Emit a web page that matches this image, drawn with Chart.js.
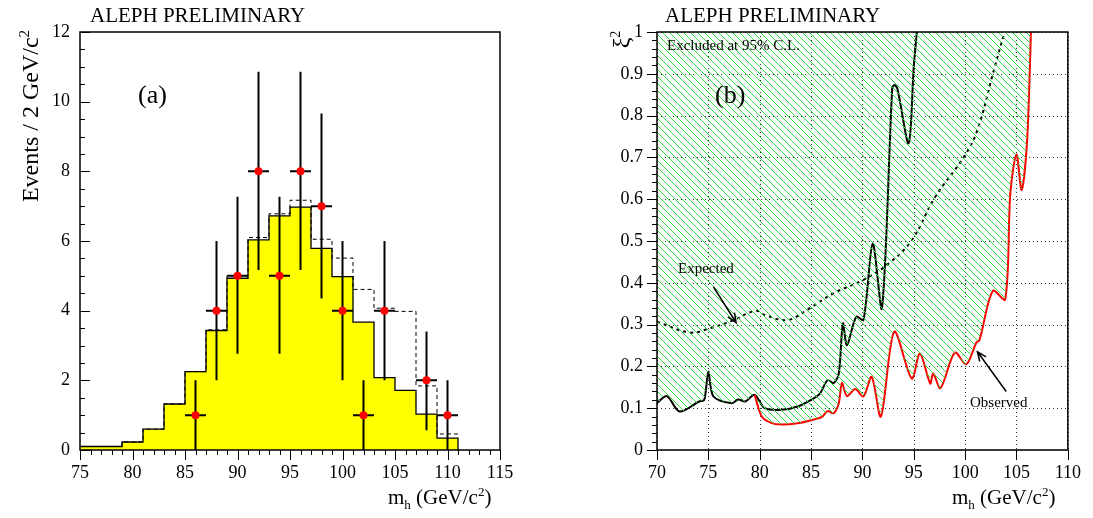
<!DOCTYPE html>
<html>
<head>
<meta charset="utf-8">
<script src="https://cdn.jsdelivr.net/npm/chart.js@4"></script>
<style>
  body { margin: 0; background: #fff; font-family: "Liberation Serif", serif; }
  #wrap { position: relative; width: 1093px; height: 518px; }
  canvas { position: absolute; top: 0; }
  .txt { position: absolute; font-family: "Liberation Serif", serif; color: #000; white-space: nowrap; }
</style>
</head>
<body>
<div id="wrap">
  <canvas id="histChart" style="left:0" width="540" height="518"></canvas>
  <canvas id="limitChart" style="left:560px" width="533" height="518"></canvas>
  <div class="txt" style="left:90px;top:3px;font-size:21px">ALEPH PRELIMINARY</div>
  <div class="txt" style="left:665px;top:3px;font-size:21px">ALEPH PRELIMINARY</div>
  <div class="txt" style="left:138px;top:80px;font-size:26px">(a)</div>
  <div class="txt" style="left:715px;top:80px;font-size:26px">(b)</div>
  <div class="txt" style="left:667px;top:37px;font-size:15px">Excluded at 95% C.L.</div>
  <div class="txt" style="left:678px;top:260px;font-size:15px">Expected</div>
  <div class="txt" style="left:970px;top:394px;font-size:15px">Observed</div>
  <div class="txt" style="left:-80px;top:102px;font-size:24px;transform:rotate(-90deg);transform-origin:center;width:220px;text-align:center">Events / 2 GeV/c<sup style="font-size:15px">2</sup></div>
  <div class="txt" style="left:613px;top:26px;font-size:24px;transform:rotate(-90deg)">ξ<sup style="font-size:14px">2</sup></div>
  <div class="txt" style="left:388px;top:484px;font-size:21px">m<sub style="font-size:13px">h</sub> (GeV/c<sup style="font-size:13px">2</sup>)</div>
  <div class="txt" style="left:952px;top:484px;font-size:21px">m<sub style="font-size:13px">h</sub> (GeV/c<sup style="font-size:13px">2</sup>)</div>
</div>
<script>
// ---- panel (a) data ----
const binEdges = [75, 79, 81, 83, 85, 87, 89, 91, 93, 95, 97, 99, 101, 103, 105, 107, 109, 111];
const bkgCounts = [0.1, 0.23, 0.6, 1.32, 2.25, 3.43, 4.93, 6.03, 6.72, 6.97, 5.79, 4.98, 3.67, 2.08, 1.71, 1.03, 0.34];
const sigBkgCounts = [0.1, 0.23, 0.6, 1.32, 2.25, 3.45, 5.0, 6.1, 6.78, 7.17, 6.05, 5.51, 4.61, 4.07, 3.98, 1.84, 0.46];
const dataMass = [86, 88, 90, 92, 94, 96, 98, 100, 102, 104, 108, 110];
const dataCounts = [1, 4, 5, 8, 5, 8, 7, 4, 1, 4, 2, 1];
const dataErrLow = [1, 2, 2.24, 2.83, 2.24, 2.83, 2.65, 2, 1, 2, 1.43, 1];
const dataErrHigh = [1, 2, 2.27, 2.86, 2.27, 2.86, 2.66, 2, 1, 2, 1.4, 1];

// ---- panel (b) data ----
const blackX = [70, 70.96, 72.2, 74.1, 74.6, 75, 75.5, 77.3, 77.9, 78.6, 79.5, 80.5, 82.1, 83.7, 85.3, 85.9, 86.6, 87.2, 87.7, 88.1, 88.5, 89.4, 90.1, 91.0, 91.9, 92.9, 93.1, 93.4, 94.5, 95.0, 95.3];
const blackY = [0.112, 0.129, 0.092, 0.116, 0.12, 0.187, 0.128, 0.112, 0.121, 0.116, 0.132, 0.1, 0.096, 0.104, 0.124, 0.136, 0.167, 0.16, 0.183, 0.303, 0.251, 0.319, 0.311, 0.494, 0.339, 0.865, 0.873, 0.865, 0.734, 0.917, 1.0];
const redX = [79.5, 80.2, 81.1, 82.1, 83.7, 85.3, 86.1, 86.6, 87.2, 87.7, 88.0, 88.5, 89.3, 90.1, 90.9, 91.8, 93.1, 94.8, 95.6, 96.6, 96.9, 97.6, 99.0, 100.1, 101.1, 101.4, 102.7, 103.9, 104.4, 105.0, 105.5, 106.0, 106.3, 106.4];
const redY = [0.132, 0.08, 0.065, 0.061, 0.064, 0.073, 0.08, 0.093, 0.088, 0.112, 0.16, 0.129, 0.146, 0.128, 0.175, 0.08, 0.283, 0.171, 0.231, 0.159, 0.183, 0.148, 0.233, 0.205, 0.257, 0.263, 0.381, 0.36, 0.614, 0.707, 0.622, 0.726, 0.909, 1.0];
const expX = [70, 73.2, 75.1, 77.3, 79.6, 80.5, 82.7, 84.6, 87.2, 90.1, 92.6, 94.8, 97.1, 99.9, 101.2, 102.8, 103.8];
const expY = [0.307, 0.281, 0.291, 0.309, 0.333, 0.323, 0.311, 0.335, 0.375, 0.407, 0.447, 0.502, 0.606, 0.702, 0.766, 0.909, 0.997];

const serif = { family: 'Liberation Serif', size: 18 };
Chart.defaults.color = '#000';

// histogram outline: each bin gives a flat segment from its low to its high edge
function stepPoints(edges, vals) {
  const pts = [];
  vals.forEach((v, i) => { pts.push({ x: edges[i], y: v }); pts.push({ x: edges[i + 1], y: v }); });
  return pts;
}
function xy(xs, ys) { return xs.map((x, i) => ({ x: x, y: ys[i] })); }

// tick marks, frame and optional dotted grid drawn from the scales
function axisDecor(opts) {
  return {
    id: 'axisDecor',
    beforeDatasetsDraw(chart) {
      if (!opts.grid) return;
      const c = chart.ctx, a = chart.chartArea, xs = chart.scales.x, ys = chart.scales.y;
      c.save();
      c.strokeStyle = '#333';
      c.lineWidth = 1;
      c.setLineDash([1, 3]);
      c.beginPath();
      xs.ticks.forEach(t => { const px = Math.round(xs.getPixelForValue(t.value)) + 0.5; c.moveTo(px, a.top); c.lineTo(px, a.bottom); });
      ys.ticks.forEach(t => { const py = Math.round(ys.getPixelForValue(t.value)) + 0.5; c.moveTo(a.left, py); c.lineTo(a.right, py); });
      c.stroke();
      c.restore();
    },
    afterDraw(chart) {
      const c = chart.ctx, a = chart.chartArea;
      const xs = chart.scales.x, ys = chart.scales.y;
      c.save();
      c.strokeStyle = '#000';
      c.lineWidth = 1;
      c.beginPath();
      for (let v = xs.min; v <= xs.max + 1e-9; v += opts.xStep) {
        const px = Math.round(xs.getPixelForValue(v)) + 0.5;
        const major = Math.abs(v / opts.xMajor - Math.round(v / opts.xMajor)) < 1e-6;
        const len = major ? 10 : 5;
        c.moveTo(px, a.bottom); c.lineTo(px, a.bottom + len);
      }
      for (let v = ys.min; v <= ys.max + 1e-9; v += opts.yStep) {
        const py = Math.round(ys.getPixelForValue(v)) + 0.5;
        const major = Math.abs(v / opts.yMajor - Math.round(v / opts.yMajor)) < 1e-6;
        const len = major ? 10 : 5;
        c.moveTo(a.left + opts.yDir * len, py); c.lineTo(a.left, py);
      }
      c.stroke();
      c.lineWidth = 1.5;
      c.strokeRect(a.left, a.top, a.right - a.left, a.bottom - a.top);
      c.restore();
    }
  };
}

// error bars for panel (a)
const errorBars = {
  id: 'errorBars',
  afterDatasetsDraw(chart) {
    const c = chart.ctx, xs = chart.scales.x, ys = chart.scales.y;
    c.save();
    c.strokeStyle = '#000';
    c.lineWidth = 2;
    dataMass.forEach((m, i) => {
      const px = xs.getPixelForValue(m), py = ys.getPixelForValue(dataCounts[i]);
      c.beginPath();
      c.moveTo(px, ys.getPixelForValue(dataCounts[i] - dataErrLow[i]));
      c.lineTo(px, ys.getPixelForValue(dataCounts[i] + dataErrHigh[i]));
      c.moveTo(xs.getPixelForValue(m - 1), py);
      c.lineTo(xs.getPixelForValue(m + 1), py);
      c.stroke();
    });
    c.fillStyle = '#ff0000';
    dataMass.forEach((m, i) => {
      c.beginPath();
      c.arc(xs.getPixelForValue(m), ys.getPixelForValue(dataCounts[i]), 4, 0, Math.PI * 2);
      c.fill();
    });
    c.restore();
  }
};

const noGrid = { display: false, drawTicks: false };

new Chart(document.getElementById('histChart'), {
  type: 'line',
  data: {
    datasets: [
      { data: stepPoints(binEdges, sigBkgCounts), borderColor: '#000', borderWidth: 1, borderDash: [4, 3], pointRadius: 0, fill: false },
      { data: stepPoints(binEdges, bkgCounts).concat([{ x: 111, y: 0 }]), borderColor: '#000', borderWidth: 1.3, backgroundColor: '#ffff00', pointRadius: 0, fill: 'origin' }
    ]
  },
  options: {
    responsive: false, animation: false,
    layout: { padding: { top: 32, right: 40, bottom: 38, left: 0 } },
    plugins: { legend: { display: false }, tooltip: { enabled: false } },
    scales: {
      x: { type: 'linear', min: 75, max: 115, afterFit: s => { s.height = 30; },
        ticks: { stepSize: 5, font: serif, padding: 12 }, grid: noGrid, border: { display: false } },
      y: { min: 0, max: 12, afterFit: s => { s.width = 80; },
        ticks: { stepSize: 2, font: serif, padding: 10 }, grid: noGrid, border: { display: false } }
    }
  },
  plugins: [axisDecor({ xStep: 1, xMajor: 5, yStep: 0.5, yMajor: 2, yDir: 1, grid: false }), errorBars]
});

// hatch pattern
function hatch() {
  const p = document.createElement('canvas');
  p.width = 7; p.height = 7;
  const g = p.getContext('2d');
  g.strokeStyle = '#33dd33';
  g.lineWidth = 1;
  g.beginPath();
  g.moveTo(0, 0); g.lineTo(7, 7);
  g.moveTo(-1, 6); g.lineTo(1, 8);
  g.moveTo(6, -1); g.lineTo(8, 1);
  g.stroke();
  return g.createPattern(p, 'repeat');
}

const boundary = xy(blackX, blackY).filter(p => p.x < 79.5).concat(xy(redX, redY));

const arrows = {
  id: 'arrows',
  afterDraw(chart) {
    const c = chart.ctx, xs = chart.scales.x, ys = chart.scales.y;
    function arrow(x1, y1, x2, y2) {
      const p1 = [xs.getPixelForValue(x1), ys.getPixelForValue(y1)];
      const p2 = [xs.getPixelForValue(x2), ys.getPixelForValue(y2)];
      const ang = Math.atan2(p2[1] - p1[1], p2[0] - p1[0]);
      c.beginPath(); c.moveTo(p1[0], p1[1]); c.lineTo(p2[0], p2[1]);
      c.moveTo(p2[0] - 10 * Math.cos(ang - 0.4), p2[1] - 10 * Math.sin(ang - 0.4));
      c.lineTo(p2[0], p2[1]);
      c.lineTo(p2[0] - 10 * Math.cos(ang + 0.4), p2[1] - 10 * Math.sin(ang + 0.4));
      c.stroke();
    }
    c.save(); c.strokeStyle = '#000'; c.lineWidth = 1.5;
    arrow(75.5, 0.39, 77.7, 0.305);
    arrow(104, 0.14, 101.2, 0.235);
    c.restore();
  }
};

new Chart(document.getElementById('limitChart'), {
  type: 'line',
  data: {
    datasets: [
      { data: boundary, borderWidth: 0, pointRadius: 0, backgroundColor: hatch(), fill: 'end', tension: 0.3 },
      { data: xy(expX, expY), borderColor: '#000', borderWidth: 2, borderDash: [3, 4], pointRadius: 0, fill: false, tension: 0.4 },
      { data: xy(redX, redY), borderColor: '#ff0000', borderWidth: 2, pointRadius: 0, fill: false, tension: 0.3 },
      { data: xy(blackX, blackY), borderColor: '#000', borderWidth: 2, pointRadius: 0, fill: false, tension: 0.3 }
    ]
  },
  options: {
    responsive: false, animation: false,
    layout: { padding: { top: 32, right: 18, bottom: 38, left: 0 } },
    plugins: { legend: { display: false }, tooltip: { enabled: false } },
    scales: {
      x: { type: 'linear', min: 70, max: 110, afterFit: s => { s.height = 30; },
        ticks: { stepSize: 5, font: serif, padding: 12 }, grid: noGrid, border: { display: false } },
      y: { min: 0, max: 1, afterFit: s => { s.width = 97; },
        ticks: { stepSize: 0.1, font: serif, padding: 14, callback: v => Math.round(v * 10) / 10 }, grid: noGrid, border: { display: false } }
    }
  },
  plugins: [axisDecor({ xStep: 5, xMajor: 5, yStep: 0.02, yMajor: 0.1, yDir: -1, grid: true }), arrows]
});
</script>
</body>
</html>
